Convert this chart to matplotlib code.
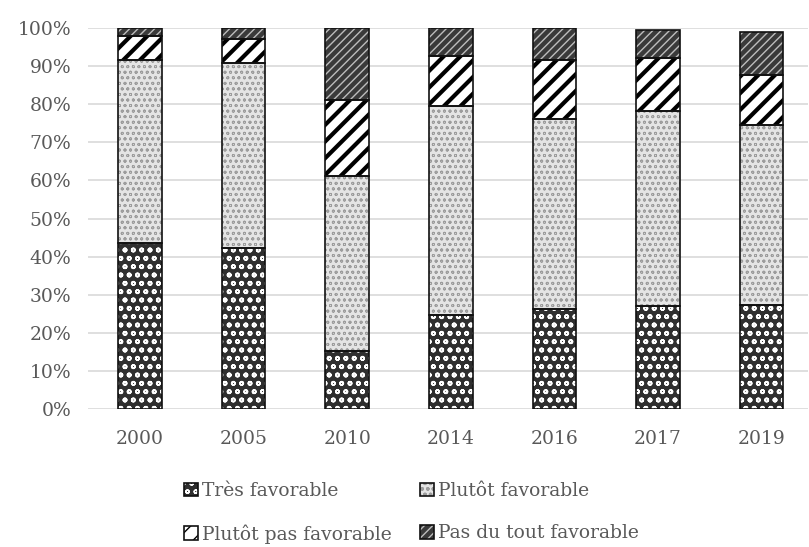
import matplotlib.pyplot as plt
import numpy as np

# share of answers per survey year (%), stacked bottom to top
years = ['2000', '2005', '2010', '2014', '2016', '2017', '2019']
tres_fav = [43.7, 42.4, 15.3, 24.6, 26.4, 27.0, 27.2]
plutot_fav = [48.0, 48.4, 45.8, 54.8, 49.6, 51.3, 47.4]
plutot_pas = [6.3, 6.2, 20.0, 13.2, 15.6, 13.7, 13.1]
pas_du_tout = [2.0, 3.0, 18.9, 7.4, 8.4, 7.5, 11.3]

series = [
    ('Très favorable', tres_fav),
    ('Plutôt favorable', plutot_fav),
    ('Plutôt pas favorable', plutot_pas),
    ('Pas du tout favorable', pas_du_tout),
]
# face colour, hatch, hatch colour, hatch line width
styles = [
    ('#2f2f2f', 'oo', 'white', 1.2),
    ('#e4e4e4', 'ooo', '#9c9c9c', 0.6),
    ('white', '//', 'black', 3.0),
    ('#3a3a3a', '////', '#bdbdbd', 1.0),
]

plt.rcParams['font.family'] = 'DejaVu Serif'
fig = plt.figure(figsize=(8.09, 5.47), dpi=100)
ax = fig.add_axes([0.109, 0.252, 0.89, 0.697])

x = np.arange(len(years))
w = 0.42
bottom = np.zeros(len(years))
handles = {}
for (name, vals), (fc, h, hc, hlw) in zip(series, styles):
    vals = np.array(vals)
    plt.rcParams['hatch.linewidth'] = hlw
    fill = ax.bar(x, vals, w, bottom=bottom, color=fc, edgecolor=hc,
                  hatch=h, linewidth=0, zorder=2)
    edge = ax.bar(x, vals, w, bottom=bottom, fill=False, edgecolor='#111111',
                  linewidth=1.2, zorder=3)
    handles[name] = (fill, edge)
    bottom += vals

ax.set_xlim(-0.5, 6.45)
ax.set_ylim(0, 100)
ax.set_yticks(np.arange(0, 101, 10))
ax.set_yticklabels(['%d%%' % v for v in range(0, 101, 10)])
ax.set_xticks(x)
ax.set_xticklabels(years)
ax.tick_params(length=0, labelsize=13.5, colors='#595959')
ax.tick_params(axis='y', pad=12)
ax.tick_params(axis='x', pad=15)
ax.yaxis.grid(True, color='#d9d9d9', linewidth=1.2, zorder=0)
ax.set_axisbelow(True)
for s in ax.spines.values():
    s.set_visible(False)

order = ['Très favorable', 'Plutôt pas favorable',
         'Plutôt favorable', 'Pas du tout favorable']
leg = fig.legend([handles[k] for k in order], order, ncol=2,
                 loc='lower left', bbox_to_anchor=(0.207, -0.025),
                 frameon=False, fontsize=13.5, handlelength=0.75,
                 handleheight=0.75, handletextpad=0.2, columnspacing=1.5,
                 labelspacing=1.3)
for t in leg.get_texts():
    t.set_color('#595959')

fig.savefig('out.png', dpi=100)
